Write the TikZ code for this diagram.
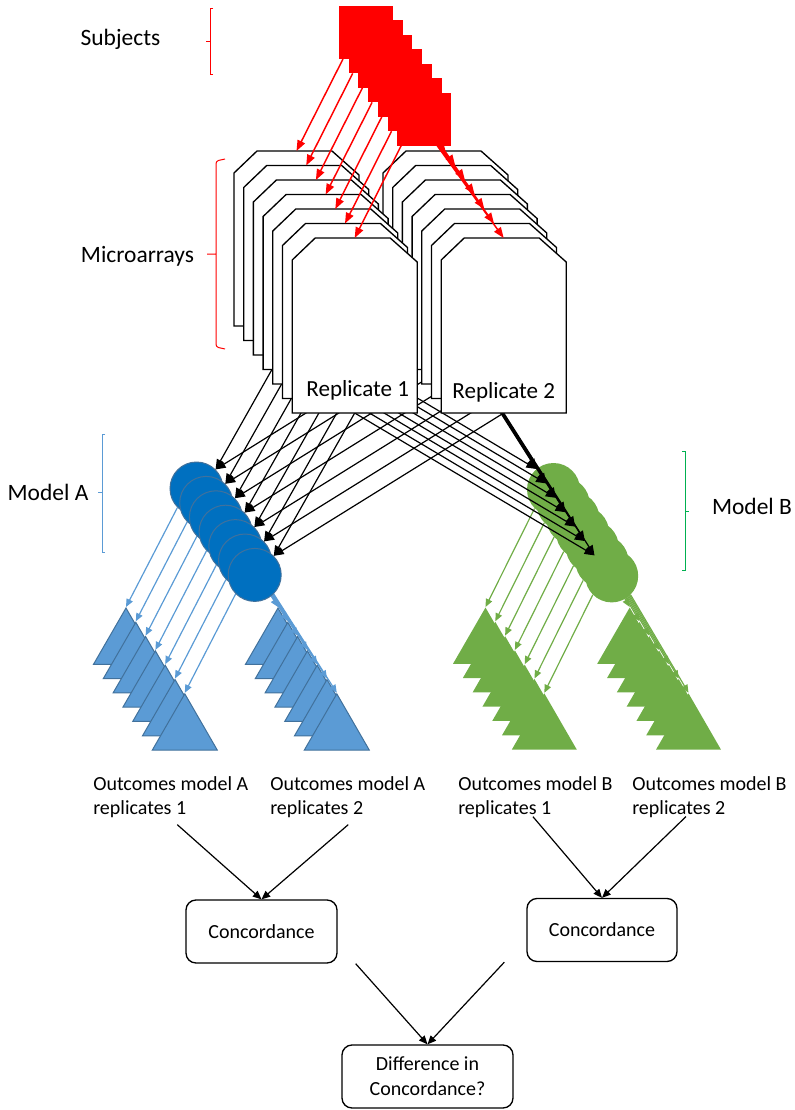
\documentclass[tikz,border=0pt]{standalone}
\usepackage{fontspec}
\setmainfont{Carlito}
\usepackage{tikz}
\usetikzlibrary{shapes.geometric, arrows.meta, backgrounds}
\definecolor{subjred}{HTML}{FF0000}
\definecolor{afill}{HTML}{0070C0}
\definecolor{adraw}{HTML}{41719C}
\definecolor{aout}{HTML}{5B9BD5}
\definecolor{bfill}{HTML}{70AD47}
\definecolor{bbrace}{HTML}{00B050}
\tikzset{
  lbl/.style={font=\fontsize{17.6}{21}\selectfont, inner sep=0pt},
  reptxt/.style={font=\fontsize{17.3}{21}\selectfont, inner sep=0pt},
  subj/.style={rectangle, fill=subjred, minimum width=40.5pt, minimum height=39.75pt, inner sep=0pt, outer sep=0pt},
  card/.style={rectangle, minimum width=93.75pt, minimum height=131.25pt, inner sep=0pt, outer sep=0pt},
  cardline/.style={draw=black, fill=white, line width=1pt},
  mdla/.style={circle, fill=afill, draw=adraw, line width=0.75pt, minimum size=39.75pt, inner sep=0pt},
  mdlb/.style={circle, fill=bfill, minimum size=39.75pt, inner sep=0pt},
  outa/.style={regular polygon, regular polygon sides=3, fill=aout, draw=adraw, line width=0.75pt, minimum size=56.25pt, inner sep=0pt},
  outb/.style={regular polygon, regular polygon sides=3, fill=bfill, minimum size=56.25pt, inner sep=0pt},
  outtxt/.style={font=\fontsize{15}{18}\selectfont, align=left, inner sep=0pt, anchor=north west},
  conc/.style={rectangle, rounded corners=7.5pt, draw, line width=1pt, font=\fontsize{15}{18.75}\selectfont, align=center, minimum height=47.25pt},
  brkt/.style={line width=0.75pt},
  redarr/.style={-{Triangle[length=8pt, width=6pt]}, draw=subjred, line width=1.1pt},
  blkarr/.style={-{Triangle[length=7.5pt, width=6pt]}, line width=0.9pt},
  bluarr/.style={-{Triangle[length=6pt, width=5pt]}, draw=aout, line width=0.9pt},
  grnarr/.style={-{Triangle[length=6pt, width=5pt]}, draw=bfill, line width=0.9pt},
  arr/.style={-{Triangle[length=6.5pt, width=5.5pt]}, line width=0.9pt},
}

\begin{document}
\begin{tikzpicture}[x=0.75pt, y=-0.75pt]
  \useasboundingbox (0,0) rectangle (794,1110);
  \foreach \k in {1,...,7}
    \node[subj] (sq\k) at ({366+9.7*(\k-1)}, {32.5+14.45*(\k-1)}) {};
  % microarray places, outlines come after the arrows
  \foreach \k in {1,...,7} {
    \node[card] (cardL\k) at ({296.5+9.7*(\k-1)}, {238.5+14.5*(\k-1)}) {};
    \node[card] (cardR\k) at ({445.5+9.7*(\k-1)}, {238.5+14.5*(\k-1)}) {};
  }
  \foreach \k in {1,...,7} {
    \node[mdla] (cA\k) at ({196.5+9.7*(\k-1)}, {488.5+14.4*(\k-1)}) {};
    \node[mdlb] (cB\k) at ({553.5+9.7*(\k-1)}, {489.5+14.4*(\k-1)}) {};
  }
  \begin{scope}[on background layer]
    \foreach \k in {1,...,7} {
      \node[outa, anchor=corner 1] (tAL\k) at ({126+9.8*(\k-1)}, {607+14.3*(\k-1)}) {};
      \node[outa, anchor=corner 1] (tAR\k) at ({278+9.8*(\k-1)}, {607+14.3*(\k-1)}) {};
      \node[outb, anchor=corner 1] (tBL\k) at ({485.5+9.8*(\k-1)}, {607+14.3*(\k-1)}) {};
      \node[outb, anchor=corner 1] (tBR\k) at ({629.7+9.8*(\k-1)}, {607+14.3*(\k-1)}) {};
    }
    \foreach \k in {1,...,7} {
      \draw[bluarr] (cA\k.south west) -- (tAL\k.corner 1);
      \draw[bluarr] (cA\k.south east) -- (tAR\k.corner 1);
      \draw[grnarr] (cB\k.south west) -- (tBL\k.corner 1);
      \draw[grnarr] (cB\k.south east) -- (tBR\k.corner 1);
    }
  \end{scope}
  \foreach \k in {1,...,7} {
    \draw[blkarr] (cardL\k.south) -- (cA\k.north east);
    \draw[blkarr] (cardR\k.south) -- (cA\k.north east);
    \draw[blkarr] (cardL\k.south) -- (cB\k.130);
    \draw[blkarr] (cardR\k.south) -- (cB\k.130);
  }
  \foreach \s in {R,L}
    \foreach \k in {1,...,7}
      \filldraw[cardline] (card\s\k.south west) -- ([shift={(0,22)}]card\s\k.north west)
        -- ([shift={(23,0)}]card\s\k.north west) -- ([shift={(-27,0)}]card\s\k.north east)
        -- ([shift={(0,24)}]card\s\k.north east) -- (card\s\k.south east) -- cycle;
  \node[reptxt, anchor=base] (rep1) at ([shift={(3,-17)}]cardL7.south) {Replicate 1};
  \node[reptxt, anchor=base] (rep2) at ([shift={(0,-15)}]cardR7.south) {Replicate 2};
  \foreach \k in {1,...,7} {
    \draw[redarr] ([shift={(4,0)}]sq\k.south west) -- (cardL\k.north);
    \draw[redarr] ([shift={(40,0)}]sq\k.south west) -- (cardR\k.north);
  }
  \draw[brkt, draw=subjred] (213,8) -- (210,8) -- (210,74) -- (213,74) (210,41.7) -- (206,41.7);
  \draw[brkt, draw=subjred, rounded corners=2pt] (225,159) -- (216,161) -- (216,347) -- (225,349) (216,254) -- (207,254);
  \draw[brkt, draw=aout] (105,434) -- (102.3,434) -- (102.3,552) -- (105,552) (102.3,492.7) -- (98.3,492.7);
  \draw[brkt, draw=bbrace] (682.3,451.7) -- (685,451.7) -- (685,570) -- (682.3,570) (685,511) -- (689.3,511);
  \node[lbl, anchor=base] (lblSubj) at (120.5,45.7) {Subjects};
  \node[lbl, anchor=base] (lblMicro) at (137.5,262) {Microarrays};
  \node[lbl, anchor=base] (lblModA) at (48,500) {Model A};
  \node[lbl, anchor=base] (lblModB) at (752,514) {Model B};

  \node[outtxt] (outA1) at (93,776) {Outcomes model A\\replicates 1};
  \node[outtxt] (outA2) at (270,776) {Outcomes model A\\replicates 2};
  \node[outtxt] (outB1) at (458,776) {Outcomes model B\\replicates 1};
  \node[outtxt] (outB2) at (632,776) {Outcomes model B\\replicates 2};
  \node[conc, minimum width=113.25pt] (concA) at (261.5,931.5) {Concordance};
  \node[conc, minimum width=112.5pt] (concB) at (602,930) {Concordance};
  \node[conc, minimum width=128.25pt] (diff) at (427.5,1076.5) {Difference in\\Concordance?};
  \draw[arr] ([shift={(6.5,7)}]outA1.south) -- (concA.north);
  \draw[arr] ([shift={(0.5,7)}]outA2.south) -- (concA.north);
  \draw[arr] ([shift={(-2.5,-1)}]outB1.south) -- (concB.north);
  \draw[arr] ([shift={(-23.5,-1)}]outB2.south) -- (concB.north);
  \draw[arr] ([shift={(18,0)}]concA.south east) -- (diff.north);
  \draw[arr] ([shift={(-22,0)}]concB.south west) -- (diff.north);
\end{tikzpicture}
\end{document}
